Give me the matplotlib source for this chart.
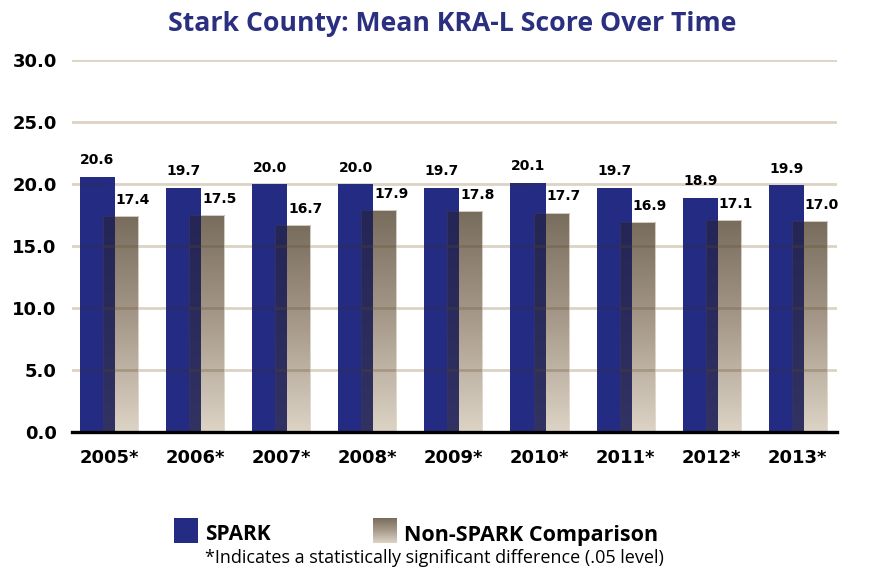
import numpy as np
import matplotlib
matplotlib.use("Agg")
import matplotlib.pyplot as plt
from matplotlib.patches import Rectangle
from matplotlib.colors import LinearSegmentedColormap

# data
years = ["2005*", "2006*", "2007*", "2008*", "2009*", "2010*", "2011*", "2012*", "2013*"]
spark = [20.6, 19.7, 20.0, 20.0, 19.7, 20.1, 19.7, 18.9, 19.9]
non_spark = [17.4, 17.5, 16.7, 17.9, 17.8, 17.7, 16.9, 17.1, 17.0]

navy = "#232b82"
grad = LinearSegmentedColormap.from_list("tan", ["#786c5d", "#a89b8b", "#ddd4c6"])
font = "Open Sans"
bold = "DejaVu Sans"

fig = plt.figure(figsize=(8.82, 5.88), dpi=100)
ax = fig.add_axes([72 / 882, 156 / 588, 765 / 882, 372 / 588])

w = 0.407
off = 0.134
x = np.arange(len(years))
grid = np.arange(5, 31, 5)

ax.set_yticks(np.arange(0, 31, 5))
ax.set_yticklabels([f"{v:.1f}" for v in np.arange(0, 31, 5)], fontsize=13,
                   fontweight="bold", family=bold)
ax.set_xticks(x)
ax.set_xticklabels(years, fontsize=13, fontweight="bold", family=bold)
ax.tick_params(length=0)
ax.tick_params(axis="x", pad=12)
ax.tick_params(axis="y", pad=11)
for v in grid:
    ax.axhline(v, color="#dcd3c3", lw=2, zorder=1)
for s in ["top", "right", "left"]:
    ax.spines[s].set_visible(False)
ax.spines["bottom"].set_linewidth(2.4)
ax.spines["bottom"].set_zorder(10)

gimg = np.linspace(0, 1, 256).reshape(-1, 1)
for i in range(len(years)):
    xs = x[i] - off
    xn = x[i] + off
    ax.bar(xs, spark[i], width=w, color=navy, zorder=2)
    # non-spark bar with vertical gradient
    rect = Rectangle((xn - w / 2, 0), w, non_spark[i], facecolor="none",
                     edgecolor="#e4ddd2", lw=0.6, zorder=4)
    ax.add_patch(rect)
    im = ax.imshow(gimg, cmap=grad, aspect="auto", zorder=3,
                   extent=(xn - w / 2, xn + w / 2, 0, non_spark[i]), origin="upper")
    im.set_clip_path(rect)
    # dark overlapping side
    ax.add_patch(Rectangle((xn - w / 2, 0), (xs + w / 2) - (xn - w / 2), non_spark[i],
                           facecolor="#1a1c55", alpha=0.88, lw=0, zorder=5))
    # grid lines show faintly through the bars
    for v in grid:
        if v < spark[i]:
            ax.plot([xs - w / 2, xn - w / 2], [v, v], color="#3a3020", alpha=0.25,
                    lw=2, zorder=6, solid_capstyle="butt")
        if v < non_spark[i]:
            ax.plot([xn - w / 2, xn + w / 2], [v, v], color="#5a4a2a", alpha=0.25,
                    lw=2, zorder=6, solid_capstyle="butt")
    ax.text(xs, spark[i] + 0.75, f"{spark[i]:.1f}", ha="center", va="bottom",
            fontsize=10, fontweight="bold", family=bold, zorder=7)
    ax.text(xn + 0.145, non_spark[i] + 0.75, f"{non_spark[i]:.1f}", ha="center",
            va="bottom", fontsize=10, fontweight="bold", family=bold, zorder=7)

ax.set_xlim(-0.43, 8.455)
ax.set_ylim(0, 30)

fig.text(452 / 882, 1 - 24 / 588, "Stark County: Mean KRA-L Score Over Time",
         ha="center", va="center", fontsize=19.2, fontweight="bold", color="#2b2f80",
         family=font)

# legend
lax = fig.add_axes([0, 0, 1, 1], facecolor="none")
lax.axis("off")
lax.add_patch(Rectangle((174, 518), 24, 25, facecolor=navy, lw=0))
lr = Rectangle((373, 518), 24, 25, facecolor="none", lw=0)
lax.add_patch(lr)
lim = lax.imshow(gimg, cmap=grad, aspect="auto", extent=(373, 397, 543, 518), origin="upper")
lim.set_clip_path(lr)
lax.set_xlim(0, 882)
lax.set_ylim(588, 0)
lax.text(205, 535, "SPARK", fontsize=15, fontweight="bold", family=font, va="center")
lax.text(404, 535, "Non-SPARK Comparison", fontsize=15.5, fontweight="bold", family=font,
         va="center")
lax.text(205, 558, "*Indicates a statistically significant difference (.05 level)",
         fontsize=13, family=font, va="center")

fig.savefig("out.png", dpi=100)
